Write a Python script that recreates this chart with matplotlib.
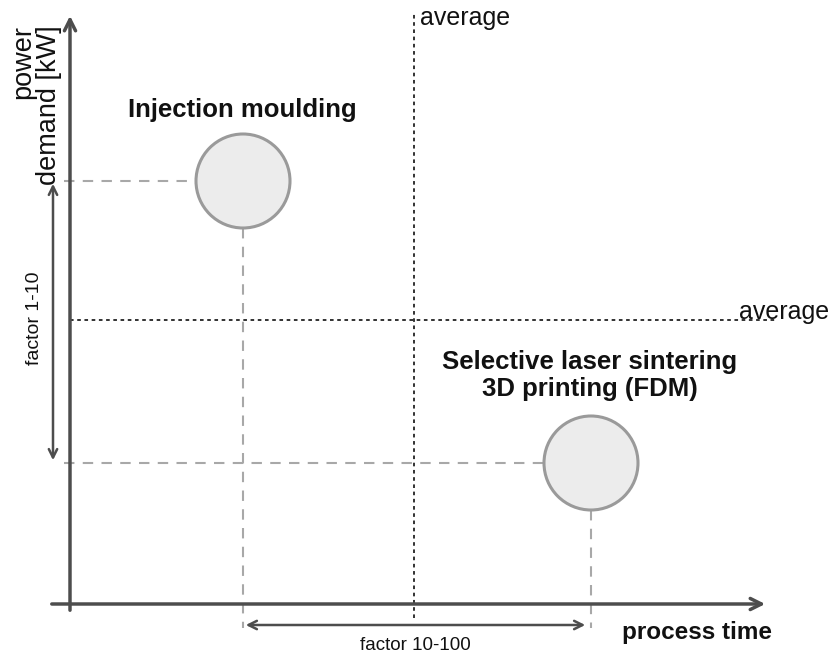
# process time vs power demand, schematic comparison
import matplotlib.pyplot as plt
from matplotlib.patches import Circle

plt.rcParams['font.family'] = ['Liberation Sans', 'DejaVu Sans']

# data (schematic units, origin at the axis cross)
processes = ["Injection moulding", "Selective laser sintering\n3D printing (FDM)"]
process_time = [1.73, 5.21]
power_demand = [4.23, 1.41]
bubble_r = 0.47
avg_time = 3.44
avg_power = 2.84
factor_power = "factor 1-10"
factor_time = "factor 10-100"

fig = plt.figure(figsize=(8.29, 6.57), dpi=100)
ax = fig.add_axes([0, 0, 1, 1])
ax.set_xlim(-0.70, 7.59)
ax.set_ylim(-0.53, 6.04)
ax.set_aspect('equal')
ax.axis('off')

axis_col = '#4d4d4d'
dash_col = '#a8a8a8'
txt_col = '#111111'

# axes with arrows
ax.annotate('', xy=(6.98, 0), xytext=(-0.21, 0),
            arrowprops=dict(arrowstyle='->,head_length=0.8,head_width=0.4', color=axis_col, lw=2.5))
ax.annotate('', xy=(0, 5.91), xytext=(0, -0.09),
            arrowprops=dict(arrowstyle='->,head_length=0.8,head_width=0.4', color=axis_col, lw=2.5))

# average lines
ax.plot([avg_time, avg_time], [-0.14, 5.91], color='#222222', lw=1.3, dashes=(2, 2))
ax.plot([0, 7.07], [avg_power, avg_power], color='#222222', lw=1.3, dashes=(2, 2))
ax.text(avg_time + 0.06, 5.86, 'average', fontsize=18, color=txt_col, ha='left', va='center')
ax.text(7.59, avg_power + 0.08, 'average', fontsize=18, color=txt_col, ha='right', va='center')

# dashed guide lines and bubbles
for x, y in zip(process_time, power_demand):
    ax.plot([-0.06, x - bubble_r], [y, y], color=dash_col, lw=1.5, dashes=(5, 4))
    ax.plot([x, x], [y - bubble_r, -0.24], color=dash_col, lw=1.5, dashes=(5, 4))
    ax.add_patch(Circle((x, y), bubble_r, facecolor='#ececec', edgecolor='#9a9a9a', lw=2.2, zorder=3))

# process labels
ax.text(process_time[0] - 0.01, power_demand[0] + 0.64, processes[0], fontsize=18.5,
        fontweight='bold', color=txt_col, ha='center', va='baseline')
ax.text(process_time[1] - 0.01, power_demand[1] + 0.67, processes[1], fontsize=18.5,
        fontweight='bold', color=txt_col, ha='center', va='baseline', linespacing=1.15)

# factor arrows
ax.annotate('', xy=(process_time[1] - 0.03, -0.21), xytext=(process_time[0], -0.21),
            arrowprops=dict(arrowstyle='<->,head_length=0.6,head_width=0.3', color=axis_col, lw=1.8))
ax.text((process_time[0] + process_time[1]) / 2 - 0.02, -0.41, factor_time, fontsize=13.5,
        color=txt_col, ha='center', va='center')
ax.annotate('', xy=(-0.17, power_demand[1]), xytext=(-0.17, power_demand[0]),
            arrowprops=dict(arrowstyle='<->,head_length=0.6,head_width=0.3', color=axis_col, lw=1.8))
ax.text(-0.35, 2.86, factor_power, fontsize=14, color=txt_col, rotation=90, ha='center', va='center')

# axis titles
ax.text(-0.34, 5.79, 'power\ndemand [kW]', fontsize=19.5, color=txt_col, rotation=90,
        ha='center', va='top', multialignment='right', linespacing=1.0)
ax.text(7.02, -0.29, 'process time', fontsize=17.5, fontweight='bold', color=txt_col,
        ha='right', va='center')

fig.savefig('out.png', dpi=100)
